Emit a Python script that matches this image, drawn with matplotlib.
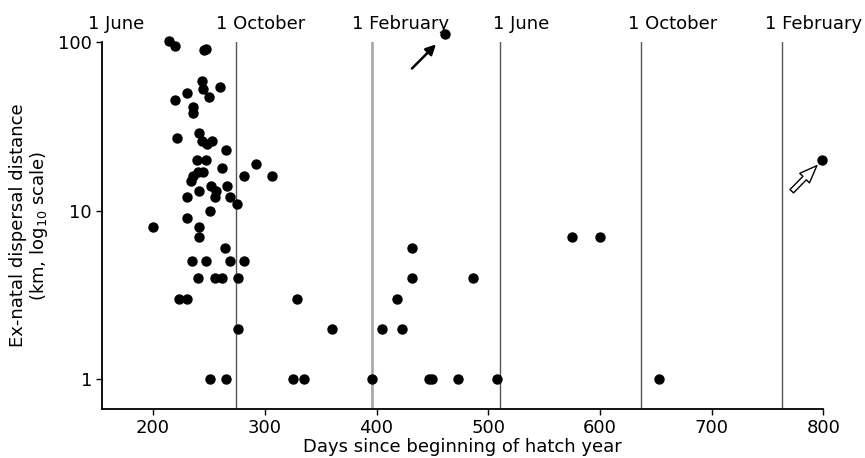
import matplotlib
matplotlib.use("Agg")
import matplotlib.pyplot as plt
import numpy as np

# days since beginning of hatch year, ex-natal dispersal distance (km)
days = [214, 220, 246, 247, 244, 260, 245, 230, 250, 220, 236, 236,
        221, 241, 244, 248, 253, 265, 239, 247, 292, 262, 240, 245,
        281, 306, 236, 234, 252, 266, 241, 256, 230, 255, 269, 275,
        251, 230, 200, 241, 241, 264,
        235, 247, 269, 281,
        240, 255, 262, 276, 432, 486,
        223, 230, 329, 418,
        276, 360, 405, 423,
        432,
        251, 265, 325, 335, 396, 447, 450, 473, 508,
        575, 600, 653, 461, 799]
dist = [102, 95, 90, 91, 59, 54, 53, 50, 47, 45, 41, 38,
        27, 29, 26, 25, 26, 23, 20, 20, 19, 18, 17, 17,
        16, 16, 16, 15, 14, 14, 13, 13, 12, 12, 12, 11,
        10, 9, 8, 8, 7, 6,
        5, 5, 5, 5,
        4, 4, 4, 4, 4, 4,
        3, 3, 3, 3,
        2, 2, 2, 2,
        6,
        1, 1, 1, 1, 1, 1, 1, 1, 1,
        7, 7, 1, 111, 20]

# month boundaries (days) and their labels
month_days = [274, 396, 511, 637, 763]
month_colors = ['#555555', '#aaaaaa', '#555555', '#555555', '#555555']
month_widths = [1.0, 2.0, 1.0, 1.0, 1.0]
label_days = [142, 256, 378, 504, 625, 748]
label_text = ['1 June', '1 October', '1 February', '1 June', '1 October', '1 February']

fig = plt.figure(figsize=(8.65, 4.58), dpi=100)
ax = fig.add_axes([0.1176, 0.1063, 0.8342, 0.802])

for d, c, w in zip(month_days, month_colors, month_widths):
    ax.axvline(d, color=c, lw=w, zorder=1)

ax.scatter(days, dist, s=42, color='black', zorder=3, clip_on=False)

ax.set_yscale('log')
ax.set_xlim(154, 800)
ax.set_ylim(0.664, 100)

for d, t in zip(label_days, label_text):
    ax.text(d, 1.024, t, transform=ax.get_xaxis_transform(), ha='left',
            va='bottom', fontsize=13, clip_on=False)

# arrows pointing at the two late records
ax.annotate('', xy=(455, 99.5), xytext=(430, 67.8),
            arrowprops=dict(arrowstyle='-|>', color='black', lw=1.8,
                            mutation_scale=15), annotation_clip=False)
ax.annotate('', xy=(796, 19), xytext=(770, 12.7),
            arrowprops=dict(arrowstyle='simple,head_length=0.9,head_width=0.7,tail_width=0.25',
                            fc='white', ec='black', lw=1, mutation_scale=14))

ax.set_yticks([1, 10, 100])
ax.set_yticklabels(['1', '10', '100'])
ax.yaxis.set_minor_locator(matplotlib.ticker.NullLocator())
ax.set_xticks([200, 300, 400, 500, 600, 700, 800])
ax.tick_params(labelsize=13, direction='out', length=4, width=1.0, pad=3)

for s in ['top', 'right']:
    ax.spines[s].set_visible(False)
for s in ['left', 'bottom']:
    ax.spines[s].set_linewidth(1.3)

ax.set_xlabel('Days since beginning of hatch year', fontsize=13, labelpad=1)
ax.set_ylabel('Ex-natal dispersal distance\n(km, log$_{10}$ scale)', fontsize=13,
              linespacing=1.05, labelpad=6)

fig.savefig('out.png', dpi=100)
